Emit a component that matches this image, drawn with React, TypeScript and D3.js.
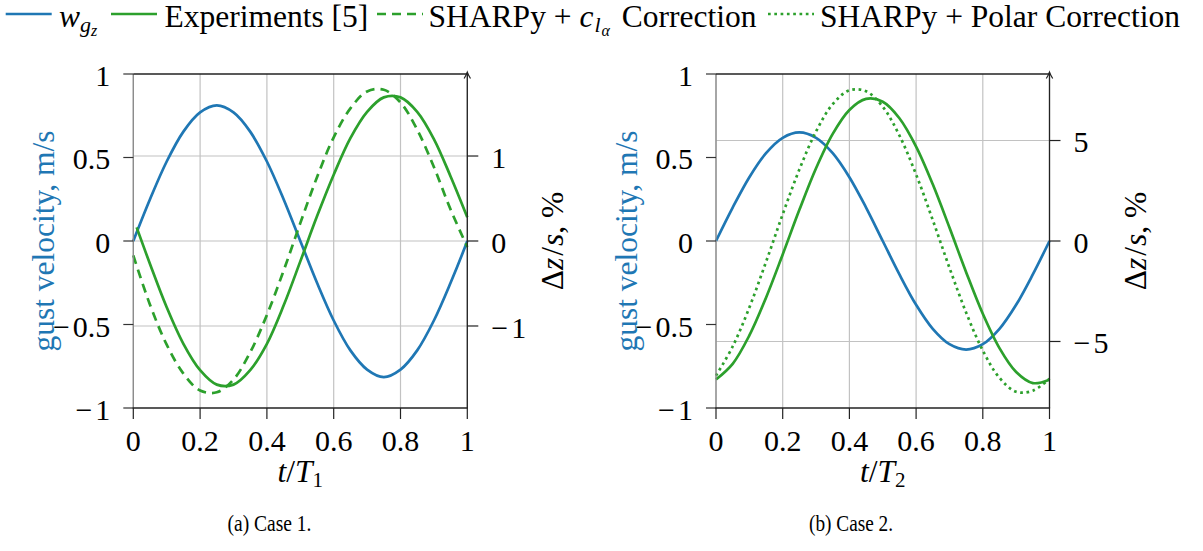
import React from "react";
import * as d3 from "d3";

// ---------- data ----------
const timeSteps = [0, 0.05, 0.1, 0.15, 0.2, 0.25, 0.3, 0.35, 0.4, 0.45, 0.5, 0.55, 0.6, 0.65, 0.7, 0.75, 0.8, 0.85, 0.9, 0.95, 1];
const expTime1 = [0.01, 0.05, 0.1, 0.15, 0.2, 0.25, 0.3, 0.35, 0.4, 0.45, 0.5, 0.55, 0.6, 0.65, 0.7, 0.75, 0.8, 0.85, 0.9, 0.95, 1];

// Case 1
const gustCase1 = [0, 0.25, 0.476, 0.655, 0.77, 0.812, 0.77, 0.655, 0.476, 0.25, 0, -0.25, -0.476, -0.655, -0.77, -0.815, -0.77, -0.655, -0.476, -0.25, 0];
const expCase1 = [0.16, -0.27, -0.78, -1.21, -1.52, -1.69, -1.69, -1.52, -1.21, -0.76, -0.24, 0.29, 0.78, 1.21, 1.52, 1.69, 1.69, 1.52, 1.2, 0.76, 0.28];
const claCase1 = [-0.17, -0.75, -1.22, -1.56, -1.76, -1.78, -1.63, -1.31, -0.87, -0.35, 0.21, 0.75, 1.22, 1.56, 1.76, 1.78, 1.63, 1.31, 0.87, 0.37, -0.07];

// Case 2
const gustCase2 = [0, 0.2, 0.382, 0.526, 0.618, 0.65, 0.618, 0.526, 0.382, 0.2, 0, -0.2, -0.382, -0.526, -0.618, -0.65, -0.618, -0.526, -0.382, -0.2, 0];
const expCase2 = [-6.89, -6.11, -4.7, -2.82, -0.67, 1.55, 3.62, 5.33, 6.52, 7.07, 6.93, 6.11, 4.7, 2.82, 0.67, -1.55, -3.62, -5.33, -6.52, -7.07, -6.9];
const polarCase2 = [-6.7, -5.25, -3.31, -1.04, 1.33, 3.56, 5.45, 6.81, 7.5, 7.45, 6.68, 5.25, 3.31, 1.04, -1.33, -3.56, -5.45, -6.81, -7.5, -7.45, -6.85];

const xTicks = [0, 0.2, 0.4, 0.6, 0.8, 1];
const leftTicks = [-1, -0.5, 0, 0.5, 1];
const rightTicks1 = [-1, 0, 1];
const rightTicks2 = [-5, 0, 5];

// ---------- styles ----------
const BLUE = "#1f77b4";
const GREEN = "#2ca02c";
const SERIF = "'Liberation Serif', 'Times New Roman', serif";
const TICK_FS = 30;
const TEXT_FS = 31.5;
const LW = 2.7;
const DASHED = "9,6";
const DOTTED = "2.7,3.6";

function TickText(props: { v: number }) {
  const { v } = props;
  if (v < 0) {
    return (
      <>
        <tspan>{"\u2212"}</tspan>
        <tspan dx={3}>{String(Math.abs(v))}</tspan>
      </>
    );
  }
  return <>{String(v)}</>;
}

type Series = { t: number[]; v: number[]; axis: "L" | "R"; color: string; dash?: string };

function Panel(props: {
  x0: number;
  x1: number;
  rightDomain: [number, number];
  rightTicks: number[];
  series: Series[];
  sub: string;
  caption: string;
  captionX: number;
}) {
  const { x0, x1, rightDomain, rightTicks, series, sub, caption, captionX } = props;
  const yTop = 74;
  const yBot = 408;
  const x = d3.scaleLinear().domain([0, 1]).range([x0, x1]);
  const yL = d3.scaleLinear().domain([-1, 1]).range([yBot, yTop]);
  const yR = d3.scaleLinear().domain(rightDomain).range([yBot, yTop]);
  const cy = yL(0);

  return (
    <g>
      {/* grid */}
      {xTicks.map((t) => (
        <line key={"gx" + t} x1={x(t)} x2={x(t)} y1={yTop} y2={yBot} stroke="#c2c2c2" strokeWidth={1.2} />
      ))}
      {rightTicks.map((v) => (
        <line key={"gy" + v} x1={x0} x2={x1} y1={yR(v)} y2={yR(v)} stroke="#c2c2c2" strokeWidth={1.2} />
      ))}

      {/* curves */}
      {series.map((s, i) => {
        const yS = s.axis === "L" ? yL : yR;
        const line = d3
          .line<number>()
          .x((_, j) => x(s.t[j]))
          .y((d) => yS(d))
          .curve(d3.curveCatmullRom.alpha(0.5));
        return (
          <path
            key={"s" + i}
            d={line(s.v) || ""}
            fill="none"
            stroke={s.color}
            strokeWidth={LW}
            strokeDasharray={s.dash}
          />
        );
      })}

      {/* spines */}
      <line x1={x0} x2={x0} y1={yTop} y2={yBot} stroke="#8a8a8a" strokeWidth={1.3} />
      <line x1={x0} x2={x1} y1={yTop} y2={yTop} stroke="#222" strokeWidth={1.3} />
      <line x1={x0 - 0.6} x2={x1 + 0.6} y1={yBot} y2={yBot} stroke="#222" strokeWidth={1.3} />
      <line x1={x1} x2={x1} y1={yBot} y2={yTop - 1.5} stroke="#222" strokeWidth={1.3} />
      <path
        d={`M${x1 - 3.2},${yTop + 4.5} Q${x1 - 0.8},${yTop + 0.5} ${x1},${yTop - 1.8} Q${x1 + 0.8},${yTop + 0.5} ${x1 + 3.2},${yTop + 4.5}`}
        fill="none"
        stroke="#222"
        strokeWidth={1.2}
      />

      {/* left ticks */}
      {leftTicks.map((v) => (
        <g key={"lt" + v}>
          <line x1={x0 - 10} x2={x0} y1={yL(v)} y2={yL(v)} stroke="#333" strokeWidth={1.2} />
          <text
            x={x0 - 23}
            y={yL(v) + 1}
            textAnchor="end"
            dominantBaseline="central"
            fontFamily={SERIF}
            fontSize={TICK_FS}
          >
            <TickText v={v} />
          </text>
        </g>
      ))}

      {/* right ticks */}
      {rightTicks.map((v) => (
        <g key={"rt" + v}>
          <line x1={x1} x2={x1 + 11} y1={yR(v)} y2={yR(v)} stroke="#222" strokeWidth={1.2} />
          <text
            x={x1 + 24}
            y={yR(v) + 1}
            textAnchor="start"
            dominantBaseline="central"
            fontFamily={SERIF}
            fontSize={TICK_FS}
          >
            <TickText v={v} />
          </text>
        </g>
      ))}

      {/* bottom ticks */}
      {xTicks.map((t) => (
        <g key={"bt" + t}>
          <line x1={x(t)} x2={x(t)} y1={yBot} y2={yBot + 11} stroke="#222" strokeWidth={1.2} />
          <text x={x(t)} y={451} textAnchor="middle" fontFamily={SERIF} fontSize={TICK_FS}>
            {String(t)}
          </text>
        </g>
      ))}

      {/* axis labels */}
      <text
        transform={`translate(${x0 - 90},${cy}) rotate(-90)`}
        textAnchor="middle"
        dominantBaseline="central"
        fontFamily={SERIF}
        fontSize={TEXT_FS}
        fill={BLUE}
      >
        gust velocity, m/s
      </text>
      <text
        transform={`translate(${x1 + 85},${cy}) rotate(-90)`}
        textAnchor="middle"
        dominantBaseline="central"
        fontFamily={SERIF}
        fontSize={TEXT_FS}
      >
        <tspan>Δ</tspan>
        <tspan fontStyle="italic">z</tspan>
        <tspan dx={2}>/</tspan>
        <tspan fontStyle="italic" dx={1}>s</tspan>
        <tspan>,</tspan>
        <tspan dx={8}>%</tspan>
      </text>
      <text x={(x0 + x1) / 2} y={482} textAnchor="middle" fontFamily={SERIF} fontSize={TEXT_FS}>
        <tspan fontStyle="italic">t</tspan>
        <tspan>/</tspan>
        <tspan fontStyle="italic">T</tspan>
        <tspan fontSize={21} dy={5}>
          {sub}
        </tspan>
      </text>

      {/* caption */}
      <text
        x={captionX}
        y={531}
        textAnchor="middle"
        fontFamily={SERIF}
        fontSize={24}
        textLength={84}
        lengthAdjust="spacingAndGlyphs"
      >
        {caption}
      </text>
    </g>
  );
}

function Legend() {
  const ly = 14;
  const by = 26.5;
  const sampleLen = 46;
  return (
    <g fontFamily={SERIF} fontSize={TEXT_FS}>
      <line x1={5.7} x2={5.7 + sampleLen} y1={ly} y2={ly} stroke={BLUE} strokeWidth={LW} />
      <text x={59} y={by}>
        <tspan fontStyle="italic">w</tspan>
        <tspan fontStyle="italic" fontSize={22} dy={5}>
          g
        </tspan>
        <tspan fontStyle="italic" fontSize={16} dy={4}>
          z
        </tspan>
      </text>

      <line x1={111} x2={111 + sampleLen} y1={ly} y2={ly} stroke={GREEN} strokeWidth={LW} />
      <text x={164.5} y={by}>
        Experiments [5]
      </text>

      <line x1={377} x2={377 + sampleLen} y1={ly} y2={ly} stroke={GREEN} strokeWidth={LW} strokeDasharray={DASHED} />
      <text x={428.6} y={by}>
        <tspan>SHARPy + </tspan>
        <tspan fontStyle="italic">c</tspan>
        <tspan fontStyle="italic" fontSize={22} dy={5} dx={1}>
          l
        </tspan>
        <tspan fontStyle="italic" fontSize={16} dy={4} dx={1}>
          α
        </tspan>
        <tspan dy={-9} dx={4}> Correction</tspan>
      </text>

      <line x1={768} x2={768 + sampleLen} y1={ly} y2={ly} stroke={GREEN} strokeWidth={LW} strokeDasharray={DOTTED} />
      <text x={820} y={by}>
        SHARPy + Polar Correction
      </text>
    </g>
  );
}

export default function App() {
  const series1: Series[] = [
    { t: timeSteps, v: gustCase1, axis: "L", color: BLUE },
    { t: expTime1, v: expCase1, axis: "R", color: GREEN },
    { t: timeSteps, v: claCase1, axis: "R", color: GREEN, dash: DASHED },
  ];
  const series2: Series[] = [
    { t: timeSteps, v: gustCase2, axis: "L", color: BLUE },
    { t: timeSteps, v: expCase2, axis: "R", color: GREEN },
    { t: timeSteps, v: polarCase2, axis: "R", color: GREEN, dash: DOTTED },
  ];
  return (
    <svg
      width={1203}
      height={551}
      viewBox="0 0 1203 551"
      style={{ position: "absolute", left: 0, top: 0, background: "#fff" }}
    >
      <rect width={1203} height={551} fill="#fff" />
      <Legend />
      <Panel
        x0={133.3}
        x1={467.3}
        rightDomain={[-1.965, 1.965]}
        rightTicks={rightTicks1}
        series={series1}
        sub="1"
        caption="(a) Case 1."
        captionX={269.5}
      />
      <Panel
        x0={716}
        x1={1049.5}
        rightDomain={[-8.31, 8.31]}
        rightTicks={rightTicks2}
        series={series2}
        sub="2"
        caption="(b) Case 2."
        captionX={851}
      />
    </svg>
  );
}
